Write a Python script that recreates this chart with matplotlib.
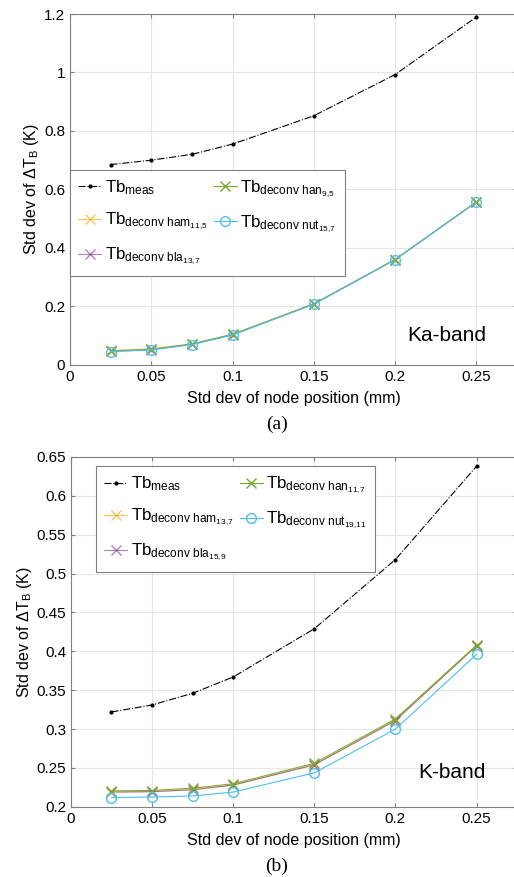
"""
Std dev of brightness-temperature error vs node position error,
Ka-band (a) and K-band (b).
"""

import matplotlib
matplotlib.use("Agg")
import matplotlib.pyplot as plt

plt.rcParams['font.family'] = ['Liberation Sans', 'DejaVu Sans']
plt.rcParams['mathtext.default'] = 'regular'

# x values (mm)
node_std = [0.025, 0.05, 0.075, 0.1, 0.15, 0.2, 0.25]

# Ka-band
ka_meas = [0.685, 0.700, 0.720, 0.755, 0.852, 0.993, 1.190]
ka_ham = [0.050, 0.055, 0.072, 0.105, 0.209, 0.361, 0.558]
ka_bla = [0.046, 0.052, 0.070, 0.103, 0.208, 0.360, 0.557]
ka_han = [0.047, 0.053, 0.071, 0.104, 0.208, 0.360, 0.557]
ka_nut = [0.045, 0.051, 0.069, 0.102, 0.207, 0.360, 0.557]
ka_labels = [r'Tb$_{meas}$', r'Tb$_{deconv\ ham_{11{,}5}}$', r'Tb$_{deconv\ bla_{13{,}7}}$',
             r'Tb$_{deconv\ han_{9{,}5}}$', r'Tb$_{deconv\ nut_{15{,}7}}$']

# K-band
k_meas = [0.322, 0.331, 0.346, 0.367, 0.429, 0.518, 0.638]
k_ham = [0.219, 0.2195, 0.222, 0.228, 0.254, 0.311, 0.407]
k_bla = [0.219, 0.2195, 0.222, 0.228, 0.254, 0.311, 0.407]
k_han = [0.2206, 0.221, 0.224, 0.2296, 0.256, 0.313, 0.408]
k_nut = [0.212, 0.2126, 0.214, 0.219, 0.2437, 0.300, 0.396]
k_labels = [r'Tb$_{meas}$', r'Tb$_{deconv\ ham_{13{,}7}}$', r'Tb$_{deconv\ bla_{15{,}9}}$',
            r'Tb$_{deconv\ han_{11{,}7}}$', r'Tb$_{deconv\ nut_{19{,}11}}$']

c_ham = '#EDB120'
c_bla = '#7E2F8E'
c_han = '#77AC30'
c_nut = '#4DBEEE'

fig = plt.figure(figsize=(5.14, 8.77), dpi=100)
ax1 = fig.add_axes([0.136, 0.584, 0.870, 0.400])
ax2 = fig.add_axes([0.138, 0.080, 0.868, 0.399])


def draw(ax, meas, ham, bla, han, nut, labels, ylim, yticks, yticklabels,
         band, band_y, leg_anchor):
    ax.plot(node_std, meas, '-.', color='k', marker='.', markersize=4,
            linewidth=0.8, label=labels[0])
    ax.plot(node_std, ham, '-', color=c_ham, marker='x', markersize=7,
            linewidth=0.8, alpha=0.7, label=labels[1])
    ax.plot(node_std, bla, '-', color=c_bla, marker='x', markersize=7,
            linewidth=0.8, alpha=0.6, label=labels[2])
    ax.plot(node_std, han, '-', color=c_han, marker='x', markersize=7,
            linewidth=0.8, label=labels[3])
    ax.plot(node_std, nut, '-', color=c_nut, marker='o', markersize=7,
            markerfacecolor='none', linewidth=0.8, label=labels[4])

    ax.set_xlim(0, 0.275)
    ax.set_ylim(*ylim)
    ax.set_xticks([0, 0.05, 0.1, 0.15, 0.2, 0.25])
    ax.set_xticklabels(['0', '0.05', '0.1', '0.15', '0.2', '0.25'])
    ax.set_yticks(yticks)
    ax.set_yticklabels(yticklabels)
    ax.grid(True, color='#e6e6e6', linewidth=0.8)
    ax.set_axisbelow(True)
    for s in ax.spines.values():
        s.set_color('#808080')
        s.set_linewidth(0.8)
    ax.tick_params(direction='in', length=3, color='#808080', labelsize=11,
                   top=True, right=True)
    ax.set_xlabel('Std dev of node position (mm)', fontsize=11.5, labelpad=5)
    ax.set_ylabel(r'Std dev of $\Delta$T$_B$ (K)', fontsize=11.5, labelpad=2)
    ax.text(0.93, band_y, band, transform=ax.transAxes, fontsize=15,
            ha='right', va='center')
    leg = ax.legend(loc='upper left', bbox_to_anchor=leg_anchor, ncol=2,
                    fontsize=12.2, frameon=True, fancybox=False,
                    edgecolor='#808080', framealpha=1, handlelength=1.35,
                    columnspacing=0.4, labelspacing=0.8, handletextpad=0.2,
                    borderpad=0.5, borderaxespad=0)
    leg.get_frame().set_linewidth(0.8)


draw(ax1, ka_meas, ka_ham, ka_bla, ka_han, ka_nut, ka_labels,
     (0, 1.2), [0, 0.2, 0.4, 0.6, 0.8, 1.0, 1.2],
     ['0', '0.2', '0.4', '0.6', '0.8', '1', '1.2'], 'Ka-band', 0.085,
     (0.0, 0.556))
draw(ax2, k_meas, k_ham, k_bla, k_han, k_nut, k_labels,
     (0.2, 0.65), [0.2, 0.25, 0.3, 0.35, 0.4, 0.45, 0.5, 0.55, 0.6, 0.65],
     ['0.2', '0.25', '0.3', '0.35', '0.4', '0.45', '0.5', '0.55', '0.6', '0.65'],
     'K-band', 0.097, (0.056, 0.974))

fig.text(0.539, 1 - 424 / 877, '(a)', family='Liberation Serif', fontsize=14,
         ha='center', va='center')
fig.text(0.539, 1 - 866 / 877, '(b)', family='Liberation Serif', fontsize=14,
         ha='center', va='center')

fig.savefig('out.png', dpi=100)
